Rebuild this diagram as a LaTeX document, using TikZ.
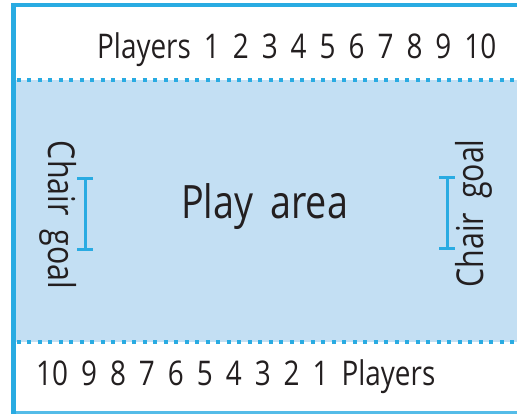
\documentclass[tikz,border=0pt]{standalone}
\usepackage{fontspec}
\setmainfont[FakeStretch=0.82]{Open Sans}
\definecolor{lineblue}{HTML}{29ABE2}
\definecolor{areablue}{HTML}{C3DFF3}
\definecolor{ink}{HTML}{231F20}
\begin{document}
\begin{tikzpicture}[x=1pt,y=-1pt,
  border/.style={draw=lineblue,line width=#1},
  dotline/.style={draw=lineblue,line width=4pt,dash pattern=on 4pt off 6.5pt},
  goalbar/.style={draw=lineblue,line width=3pt},
  label/.style={text=ink,inner sep=0pt,font=\fontsize{34}{34}\selectfont},
  goaltext/.style={text=ink,inner sep=0pt,font=\fontsize{37}{37}\selectfont},
  areatext/.style={text=ink,inner sep=0pt,font=\fontsize{46}{46}\selectfont}]
\useasboundingbox (0,0) rectangle (517,414);
% play area
\fill[areablue] (13,80) rectangle (517,342);
\path[dotline] (16.5,80) -- (517,80);
\path[dotline] (16.5,342) -- (517,342);
% borders
\path[border=4pt] (11,5) -- (517,5);
\path[border=3pt,draw=lineblue!80] (13,412.5) -- (517,412.5);
\path[border=5pt] (13.3,3) -- (13.3,414);
% texts
\node[label,anchor=base west] (top) at (97,59) {\spaceskip=13pt Players 1 2 3 4 5 6 7 8 9 10};
\node[label,anchor=base west] (bottom) at (36,385) {\spaceskip=13pt 10 9 8 7 6 5 4 3 2 1 Players};
\node[areatext,anchor=base] (area) at (264.5,219) {\spaceskip=17pt Play area};
\node[goaltext,anchor=base,rotate=-90] (goalL) at (48,215) {\spaceskip=14pt Chair goal};
\node[goaltext,anchor=base,rotate=90] (goalR) at (483,213.5) {\spaceskip=14pt Chair goal};
% goal bars
\path[goalbar] (85,179) -- (85,250);
\path[goalbar] (77,179) -- (93,179);
\path[goalbar] (77,250) -- (93,250);
\path[goalbar] (447,178) -- (447,249);
\path[goalbar] (439,178) -- (455,178);
\path[goalbar] (439,249) -- (455,249);
\end{tikzpicture}
\end{document}
